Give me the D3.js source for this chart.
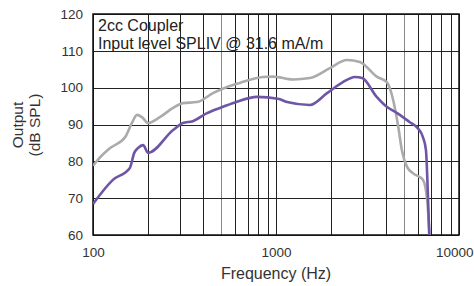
<!DOCTYPE html>
<html>
<head>
<meta charset="utf-8">
<script src="https://cdn.jsdelivr.net/npm/d3@7"></script>
<style>
	body { margin: 0; background: #fff; }
	svg text { font-family: "Liberation Sans", Arial, sans-serif; fill: #333; }
	.axis path, .axis line { display: none; }
	.grid line { stroke: #222; stroke-width: 1; shape-rendering: crispEdges; }
</style>
</head>
<body>
<div id="graph"></div>
<script>
const margin = {top: 14, right: 15, bottom: 51, left: 93},
	width = 474 - margin.left - margin.right,
	height = 286 - margin.top - margin.bottom;

// readings: [frequency Hz, output dB SPL]
const grayFreq = [100, 109, 124, 150, 163, 174, 185, 200, 232, 274, 310, 370, 452, 540, 635, 846, 962, 1240, 1530, 1970, 2440, 2870, 3550, 4030, 4370, 4660, 4870, 5200, 5600, 6350, 6700, 6900];
const grayDb   = [78.8, 81, 83.6, 86.6, 90.4, 92.6, 92.0, 90.4, 92, 94.5, 95.8, 96.1, 98.5, 100.2, 101.3, 102.9, 103, 102.2, 102.6, 105.3, 107.5, 107, 103, 101.5, 96.6, 89.3, 83.1, 78.5, 76.8, 75, 69.5, 60];

const purpleFreq = [100, 128, 159, 168, 176, 188, 200, 274, 310, 351, 420, 513, 612, 786, 1025, 1150, 1530, 1900, 2320, 2700, 2960, 3550, 4030, 4590, 5360, 5950, 6350, 6600, 6750, 6900];
const purpleDb   = [68.4, 74.9, 78.2, 82.3, 83.6, 84.4, 82.3, 88.5, 90.4, 90.9, 93.1, 94.8, 96.2, 97.5, 97.0, 96.1, 95.3, 98.5, 101.5, 102.9, 102.6, 97.5, 94.8, 93.1, 90.7, 89, 86.6, 83, 72, 58];

const yTicks = [60, 70, 80, 90, 100, 110, 120];
const xTicks = [100, 1000, 10000];
const legendLines = ["2cc Coupler", "Input level SPLIV @ 31.6 mA/m"];

const xScale = d3.scaleLog().domain([100, 10000]).range([0, width]);
const yScale = d3.scaleLinear().domain([60, 120]).range([height, 0]);

const svg = d3.select("#graph").append("svg")
	.attr("width", 474)
	.attr("height", 286)
	.append("g")
	.attr("transform", "translate(" + margin.left + "," + margin.top + ")");

// grid
let minor = [];
for (let dec = 100; dec < 10000; dec *= 10) {
	for (let k = 1; k <= 10; k++) minor.push(dec * k);
}
const grid = svg.append("g").attr("class", "grid");
grid.selectAll(".v").data(minor).enter().append("line")
	.attr("x1", d => Math.round(xScale(d)) + 0.5)
	.attr("x2", d => Math.round(xScale(d)) + 0.5)
	.attr("y1", 0).attr("y2", height)
	.style("stroke", d => (d === 500 || d === 5000) ? "#888" : "#222");
grid.selectAll(".h").data(yTicks).enter().append("line")
	.attr("x1", 0).attr("x2", width)
	.attr("y1", d => Math.round(yScale(d)) + 0.5)
	.attr("y2", d => Math.round(yScale(d)) + 0.5);

svg.append("rect")
	.attr("x", 0).attr("y", 0)
	.attr("width", width).attr("height", height)
	.style("fill", "none").style("stroke", "#111").style("stroke-width", 1.5);

// axes (labels only)
svg.append("g").attr("class", "axis")
	.attr("transform", "translate(0," + height + ")")
	.call(d3.axisBottom(xScale).tickValues(xTicks).tickFormat(d3.format("d")).tickSize(0).tickPadding(12))
	.selectAll("text")
	.style("font-size", "13.5px").style("fill", "#333")
	.attr("text-anchor", d => d === 10000 ? "end" : "middle")
	.attr("dx", d => d === 10000 ? (474 - margin.left - 1 - xScale(d)) : 0);

svg.append("g").attr("class", "axis")
	.call(d3.axisLeft(yScale).tickValues(yTicks).tickSize(0).tickPadding(10))
	.selectAll("text").style("font-size", "13.5px").style("fill", "#333");

svg.append("text")
	.attr("x", xScale(1000))
	.attr("y", height + 44)
	.style("text-anchor", "middle")
	.style("font-size", "16px")
	.text("Frequency (Hz)");

const yl = svg.append("text")
	.attr("transform", "rotate(-90)")
	.style("text-anchor", "middle")
	.style("font-size", "15.5px");
yl.append("tspan").attr("x", -111).attr("y", -70).text("Output");
yl.append("tspan").attr("x", -111).attr("y", -53).text("(dB SPL)");

svg.selectAll(".legend").data(legendLines).enter().append("text")
	.attr("x", 5)
	.attr("y", (d, i) => 17 + i * 17.5)
	.style("font-size", "16px")
	.style("fill", "#222")
	.text(d => d);

// curves
svg.append("clipPath").attr("id", "clip")
	.append("rect").attr("width", width).attr("height", height);

const line = d3.line()
	.x(d => xScale(d[0]))
	.y(d => yScale(d[1]))
	.curve(d3.curveMonotoneX);

svg.append("path")
	.datum(d3.zip(grayFreq, grayDb))
	.attr("clip-path", "url(#clip)")
	.attr("d", line)
	.style("fill", "none").style("stroke", "#ababab").style("stroke-width", 2.6);

svg.append("path")
	.datum(d3.zip(purpleFreq, purpleDb))
	.attr("clip-path", "url(#clip)")
	.attr("d", line)
	.style("fill", "none").style("stroke", "#6e55a6").style("stroke-width", 2.6);
</script>
</body>
</html>
